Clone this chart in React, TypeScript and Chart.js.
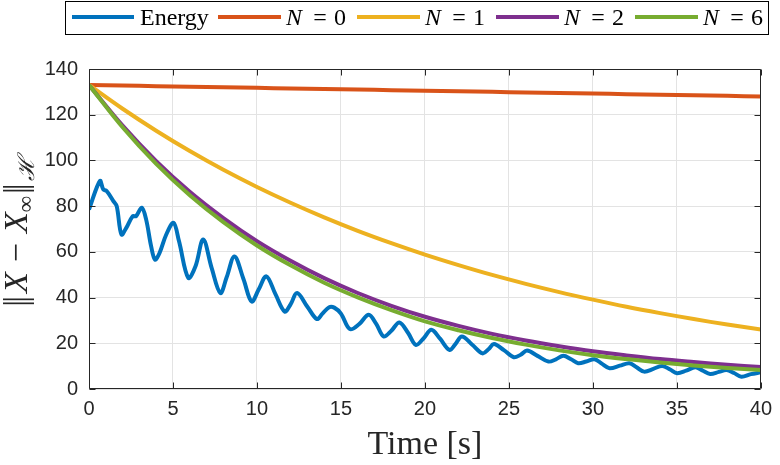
import React, { useEffect, useRef } from "react";
import { Chart, registerables } from "chart.js";

Chart.register(...registerables);

// ---------- data ----------
const energyT = [
  0, 0.65, 0.85, 1.05, 1.45, 1.65, 1.93, 2.22, 2.6, 2.8, 3.14, 3.4, 3.7, 3.93, 4.2, 4.6,
  5.03, 5.36, 5.91, 6.34, 6.8, 7.3, 7.82, 8.2, 8.66, 9.2, 9.68, 10.1, 10.56, 11.1, 11.65,
  12.0, 12.39, 13.0, 13.57, 13.9, 14.3, 14.6, 15.0, 15.53, 16.1, 16.65, 17.1, 17.54, 18.0,
  18.48, 19.0, 19.46, 19.9, 20.38, 20.9, 21.46, 21.8, 22.2, 22.8, 23.43, 23.8, 24.11, 24.7,
  25.29, 25.7, 26.08, 26.7, 27.35, 27.8, 28.24, 28.7, 29.12, 29.6, 30.1, 30.55, 30.99, 31.6,
  32.17, 32.6, 33.05, 33.6, 34.13, 34.6, 35.01, 35.55, 36.1, 36.55, 36.98, 37.5, 37.96, 38.4,
  38.84, 39.4, 40,
];
const energyV = [
  78.5, 91, 87.3, 86.6, 82.2, 80, 67.6, 70.5, 75.6, 75.6, 79.3, 74.2, 62.4, 56.6, 59.5, 67.6,
  72.7, 64.6, 48.6, 53.7, 65.4, 53, 42, 49, 58, 48, 38.3, 43.5, 49.3, 41.5, 33.9,
  37, 42, 36, 30.6, 33, 35.8, 35.6, 33, 26.2, 28.5, 32.5, 28.5, 23, 25.5,
  29.1, 24.5, 19.3, 22, 25.9, 22, 17.1, 19.5, 23, 19.5, 15.6, 17.5, 19.7, 17,
  13.9, 15, 16.8, 14.5, 12, 13, 14.5, 13, 11.3, 12, 13, 11, 9.1, 10.2,
  11.3, 9.5, 7.6, 8.8, 10.1, 8.5, 6.9, 8, 9.5, 8, 6.6, 7.5, 8.3, 7,
  5.4, 6.5, 7.3,
];

const smoothT = [0, 2, 4, 6, 8, 10, 12, 14, 16, 18, 20, 22, 24, 26, 28, 30, 32, 34, 36, 38, 40];
const n0V = [133, 132.75, 132.5, 132.25, 132, 131.75, 131.5, 131.25, 131, 130.75, 130.5, 130.25, 130, 129.75, 129.5, 129.25, 129, 128.75, 128.5, 128.25, 128];
const n1V = [133, 122.6, 113.0, 104.1, 95.9, 88.4, 81.5, 75.1, 69.2, 63.8, 58.8, 54.2, 49.9, 46.0, 42.4, 39.1, 36.0, 33.2, 30.6, 28.2, 26.0];
const n2V = [133, 115.2, 99.7, 86.3, 74.8, 64.7, 56.1, 48.5, 42.0, 36.4, 31.6, 27.6, 24.1, 21.2, 18.7, 16.5, 14.7, 13.1, 11.8, 10.6, 9.6];
const n6V = [133, 114.5, 98.5, 84.8, 73.0, 62.8, 54.1, 46.5, 40.1, 34.5, 29.6, 25.7, 22.3, 19.4, 16.9, 14.8, 13.1, 11.6, 10.3, 9.2, 8.3];

const seriesNames = ["Energy", "N = 0", "N = 1", "N = 2", "N = 6"];
const seriesColors = ["#0072BD", "#D95319", "#EDB120", "#7E2F8E", "#77AC30"];

const xMin = 0, xMax = 40, xStep = 5;
const yMin = 0, yMax = 140, yStep = 20;
const xTitle = "Time [s]";

const SERIF = '"Liberation Serif", "DejaVu Serif", serif';
const SANS = '"Liberation Sans", Arial, sans-serif';
const AXIS = "#262626";

function pts(t: number[], v: number[]) {
  return t.map((x, i) => ({ x, y: v[i] }));
}

const framePlugin = {
  id: "frame",
  afterDatasetsDraw(chart: any) {
    const { ctx, chartArea: a, scales } = chart;
    ctx.save();
    ctx.strokeStyle = AXIS;
    ctx.lineWidth = 1;
    const L = Math.round(a.left) + 0.5, R = Math.round(a.right) - 0.5;
    const T = Math.round(a.top) + 0.5, B = Math.round(a.bottom) - 0.5;
    ctx.beginPath();
    ctx.rect(L, T, R - L, B - T);
    ctx.stroke();
    const tl = 6;
    ctx.beginPath();
    for (let v = xMin; v <= xMax; v += xStep) {
      const px = Math.round(scales.x.getPixelForValue(v)) + 0.5;
      ctx.moveTo(px, B); ctx.lineTo(px, B - tl);
      ctx.moveTo(px, T); ctx.lineTo(px, T + tl);
    }
    for (let v = yMin; v <= yMax; v += yStep) {
      const py = Math.round(scales.y.getPixelForValue(v)) + 0.5;
      ctx.moveTo(L, py); ctx.lineTo(L + tl, py);
      ctx.moveTo(R, py); ctx.lineTo(R - tl, py);
    }
    ctx.stroke();
    ctx.restore();
  },
  afterDraw(chart: any) {
    const { ctx, chartArea: a } = chart;
    ctx.save();
    // ---- legend box ----
    const bx = 65.5, by = 1.5, bw = 703, bh = 33;
    ctx.fillStyle = "#ffffff";
    ctx.fillRect(bx, by, bw, bh);
    ctx.strokeStyle = "#000000";
    ctx.lineWidth = 1;
    ctx.strokeRect(bx, by, bw, bh);
    const ly = 17;
    ctx.textBaseline = "alphabetic";
    ctx.fillStyle = "#000000";
    seriesNames.forEach((name, i) => {
      let x0: number, x1: number, tx: number;
      if (i === 0) { x0 = 72; x1 = 134; tx = 140; }
      else { x0 = 218 + 139 * (i - 1); x1 = x0 + 63; tx = x1 + 5; }
      ctx.strokeStyle = seriesColors[i];
      ctx.lineWidth = 4;
      ctx.beginPath(); ctx.moveTo(x0, ly); ctx.lineTo(x1, ly); ctx.stroke();
      ctx.fillStyle = "#000";
      if (i === 0) {
        ctx.font = `24px ${SERIF}`;
        ctx.textAlign = "left";
        ctx.fillText(name, tx, 25);
      } else {
        const parts = name.split(" = ");
        ctx.font = `italic 24px ${SERIF}`;
        ctx.textAlign = "left";
        ctx.fillText(parts[0], tx, 25);
        ctx.font = `24px ${SERIF}`;
        ctx.textAlign = "center";
        ctx.fillText("=", tx + 34, 25);
        ctx.textAlign = "left";
        ctx.fillText(parts[1], tx + 48, 25);
      }
    });

    // ---- x title ----
    ctx.font = `34px ${SERIF}`;
    ctx.textAlign = "center";
    ctx.fillStyle = "#262626";
    ctx.fillText(xTitle, (a.left + a.right) / 2, 454);

    // ---- y title ----
    ctx.translate(27, 232);
    ctx.rotate(-Math.PI / 2);
    const big = `34px ${SERIF}`, bigI = `italic 34px ${SERIF}`, small = `23px ${SERIF}`, smallI = `italic 23px ${SERIF}`;
    const pieces = [
      { t: "|", f: big, dy: 0, gap: -3 },
      { t: "|", f: big, dy: 0, gap: 3 },
      { t: "X", f: bigI, dy: 0, gap: 10 },
      { t: "\u2212", f: big, dy: 0, gap: 10 },
      { t: "X", f: bigI, dy: 0, gap: 0 },
      { t: "\u221E", f: small, dy: 6, gap: 2 },
      { t: "|", f: big, dy: 0, gap: -3 },
      { t: "|", f: big, dy: 0, gap: 2 },
      { t: "\u210B", f: smallI, dy: 7, gap: 0 },
    ];
    let total = 0;
    const widths = pieces.map((p) => {
      ctx.font = p.f;
      const w = ctx.measureText(p.t).width;
      total += w + p.gap;
      return w;
    });
    let cx = -total / 2;
    ctx.textAlign = "left";
    pieces.forEach((p, i) => {
      ctx.font = p.f;
      ctx.fillText(p.t, cx, p.dy);
      cx += widths[i] + p.gap;
    });
    ctx.restore();
  },
};

export default function App() {
  const ref = useRef<HTMLCanvasElement | null>(null);
  useEffect(() => {
    if (!ref.current) return;
    const mk = (i: number, data: any[], order: number) => ({
      label: seriesNames[i],
      data,
      borderColor: seriesColors[i],
      backgroundColor: seriesColors[i],
      borderWidth: 4,
      pointRadius: 0,
      fill: false,
      tension: 0.35,
      order,
    });
    const chart = new Chart(ref.current, {
      type: "line",
      data: {
        datasets: [
          mk(0, pts(energyT, energyV), 5),
          mk(1, pts(smoothT, n0V), 4),
          mk(2, pts(smoothT, n1V), 3),
          mk(3, pts(smoothT, n2V), 2),
          mk(4, pts(smoothT, n6V), 1),
        ],
      },
      options: {
        animation: false,
        responsive: false,
        devicePixelRatio: 1,
        events: [],
        layout: { padding: { top: 69, right: 12, left: 0, bottom: 0 } },
        plugins: { legend: { display: false }, tooltip: { enabled: false }, title: { display: false } },
        scales: {
          x: {
            type: "linear",
            min: xMin,
            max: xMax,
            afterFit: (s: any) => { s.height = 76; },
            ticks: { stepSize: xStep, color: AXIS, font: { family: SANS, size: 20 }, padding: 8, maxRotation: 0 },
            grid: { color: "#e3e3e3", lineWidth: 1, drawTicks: false },
            border: { display: false },
          },
          y: {
            type: "linear",
            min: yMin,
            max: yMax,
            afterFit: (s: any) => { s.width = 89; },
            ticks: { stepSize: yStep, color: AXIS, font: { family: SANS, size: 20 }, padding: 11 },
            grid: { color: "#e3e3e3", lineWidth: 1, drawTicks: false },
            border: { display: false },
          },
        },
      } as any,
      plugins: [framePlugin],
    });
    return () => chart.destroy();
  }, []);
  return (
    <div style={{ position: "absolute", left: 0, top: 0, width: 780, height: 465, background: "#fff" }}>
      <canvas ref={ref} width={780} height={465} style={{ display: "block" }} />
    </div>
  );
}
